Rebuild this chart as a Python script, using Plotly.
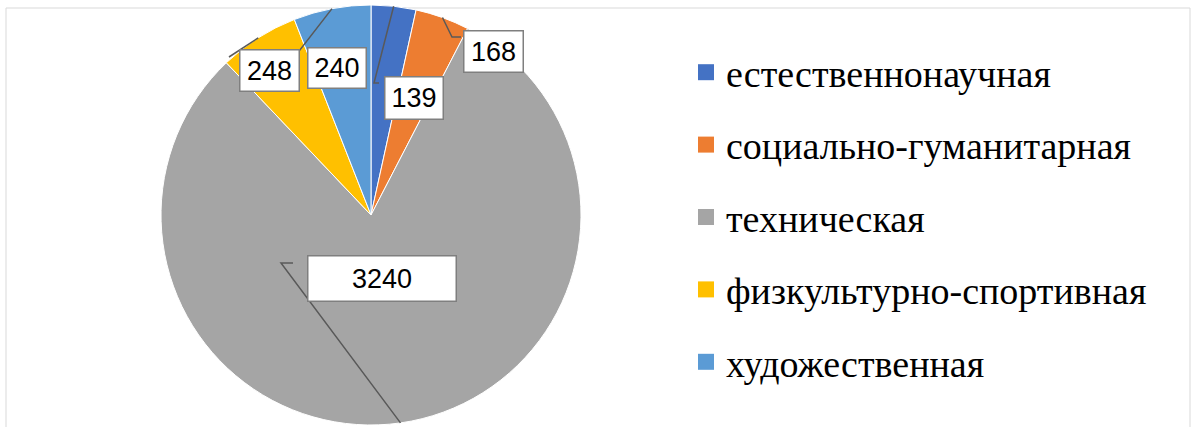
import math
import plotly.graph_objects as go

# ---- data ----
categories = ["естественнонаучная", "социально-гуманитарная", "техническая",
              "физкультурно-спортивная", "художественная"]
values = [139, 168, 3240, 248, 240]
colors = ["#4472C4", "#ED7D31", "#A5A5A5", "#FFC000", "#5B9BD5"]

W, H = 1192, 427
CX, CY, R = 371, 215, 210

def px(x):
    return x / W

def py(y):
    return 1 - y / H

# label layout (box centre, size, leader elbow points) in pixels
label_boxes = [
    dict(c=(413.5, 97.5), size=(61, 45), path=[(374, 83), (379, 83)]),
    dict(c=(493, 51), size=(62, 44), path=[(452, 37), (461, 37)]),
    dict(c=(381.5, 278), size=(151, 48), path=[(281, 263), (293, 263)]),
    dict(c=(269, 71), size=(62, 44), path=[(229, 57)]),
    dict(c=(336.5, 67.5), size=(61, 43), path=[(296, 55), (300, 55)]),
]

fig = go.Figure()

fig.add_trace(go.Pie(
    labels=categories, values=values, sort=False, direction="clockwise",
    rotation=0, textinfo="none", hoverinfo="label+value",
    marker=dict(colors=colors, line=dict(color="white", width=1)),
    domain=dict(x=[px(CX - R), px(CX + R)], y=[py(CY + R), py(CY - R)]),
    showlegend=False,
))

# legend entries
for i, (cat, col) in enumerate(zip(categories, colors)):
    fig.add_trace(go.Scatter(
        x=[None], y=[None], mode="markers", name=cat, legendgroup=f"g{i}",
        marker=dict(symbol="square", size=18, color=col),
    ))

# leader lines and labels computed from slice angles
total = sum(values)
shapes = []
annotations = []
cum = 0
for v, lb in zip(values, label_boxes):
    mid = (cum + v / 2) / total * 2 * math.pi
    cum += v
    ex = CX + R * math.sin(mid)
    ey = CY - R * math.cos(mid)
    pts = [(ex, ey)] + lb["path"]
    d = "M " + " L ".join(f"{px(x)},{py(y)}" for x, y in pts)
    shapes.append(dict(type="path", path=d, xref="paper", yref="paper",
                       line=dict(color="#595959", width=1.5)))
    cx, cy = lb["c"]
    bw, bh = lb["size"]
    annotations.append(dict(
        x=px(cx), y=py(cy), xref="paper", yref="paper", text=str(v),
        showarrow=False, xanchor="center", yanchor="middle",
        width=bw - 4, height=bh - 4, bgcolor="white",
        bordercolor="#7F7F7F", borderwidth=1.5, borderpad=0,
        font=dict(family="Liberation Sans, Arial", size=27, color="black"),
    ))

# chart frame
shapes.insert(0, dict(type="rect", xref="paper", yref="paper",
                      x0=px(6), x1=px(1190), y0=py(440), y1=py(8),
                      line=dict(color="#D9D9D9", width=1), layer="below"))

fig.update_layout(
    width=W, height=H, margin=dict(l=0, r=0, t=0, b=0),
    paper_bgcolor="white", plot_bgcolor="white",
    xaxis=dict(visible=False), yaxis=dict(visible=False),
    shapes=shapes, annotations=annotations,
    legend=dict(x=px(686), y=py(41), xanchor="left", yanchor="top",
                traceorder="grouped", tracegroupgap=20,
                font=dict(family="Liberation Serif, Times New Roman", size=38, color="black"),
                itemwidth=30, bgcolor="rgba(0,0,0,0)"),
)

fig.write_html("out.html", config={"displayModeBar": False},
               post_script="document.body.style.margin='0';")
